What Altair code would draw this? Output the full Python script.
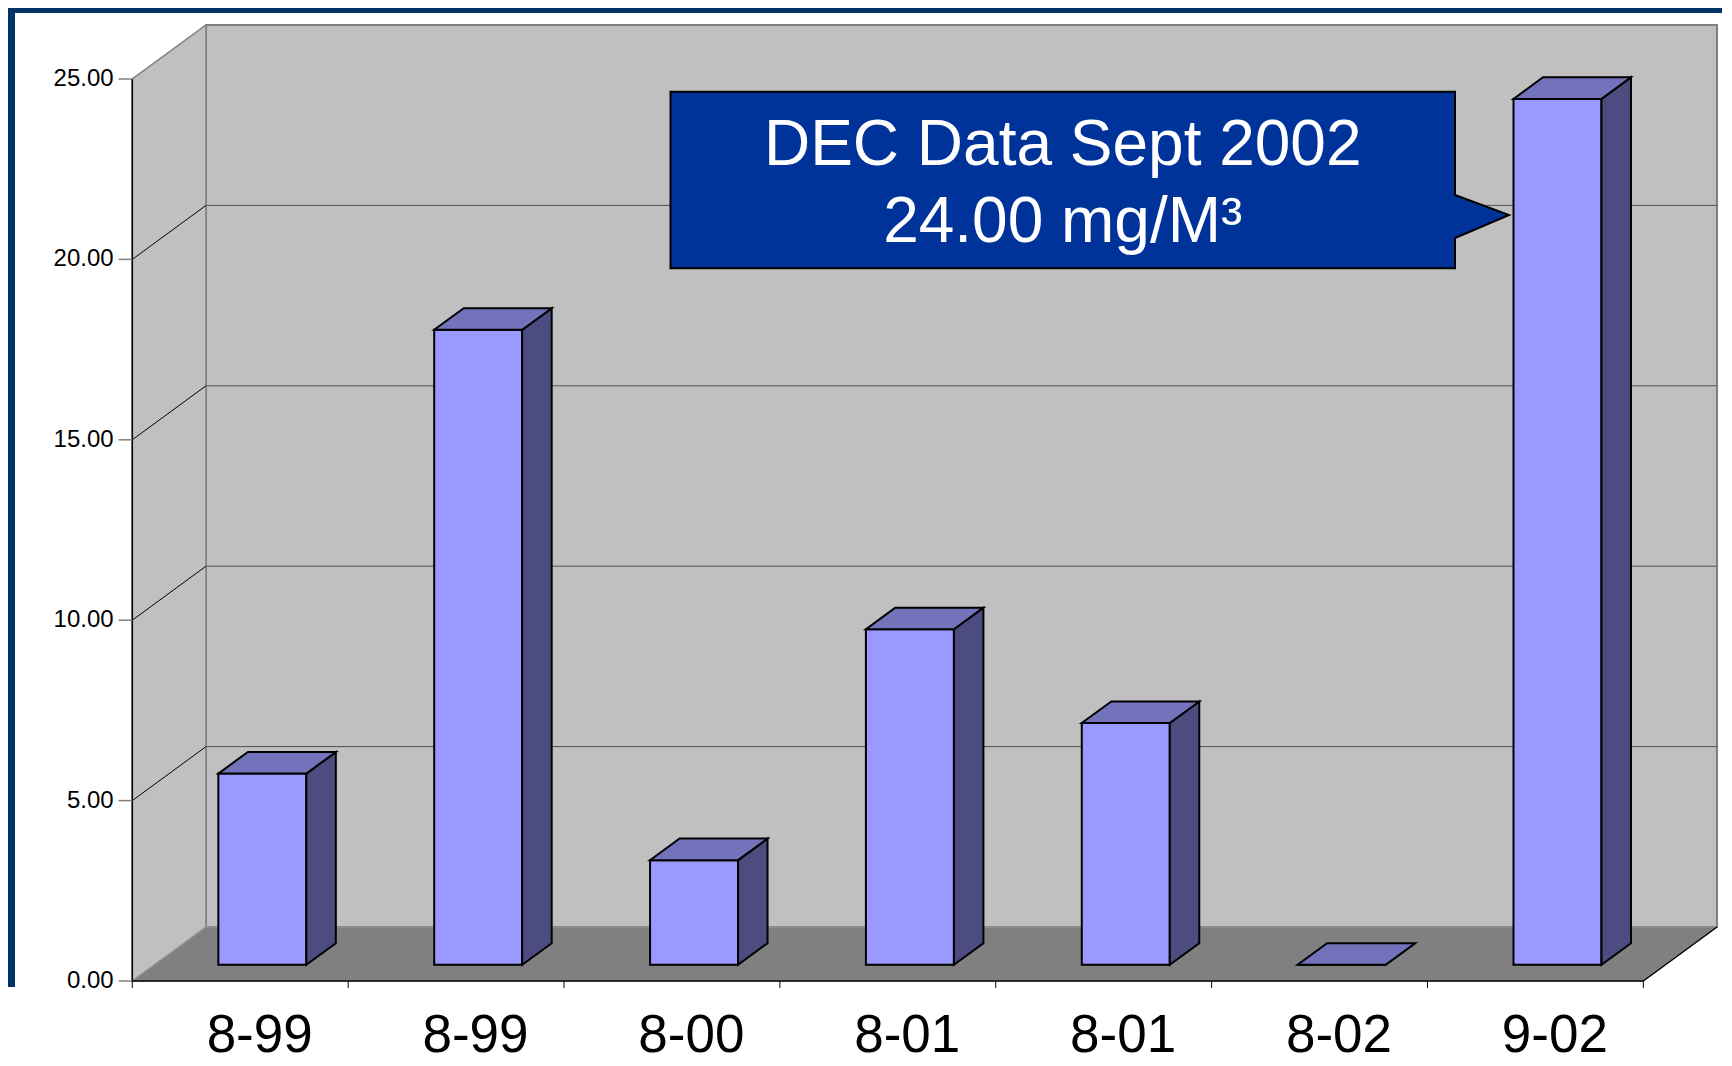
import altair as alt
import pandas as pd

# ---- data ----
categories = ["8-99", "8-99", "8-00", "8-01", "8-01", "8-02", "9-02"]
values = [5.3, 17.6, 2.9, 9.3, 6.7, 0.0, 24.0]
y_ticks = [0, 5, 10, 15, 20, 25]
callout_line1 = "DEC Data Sept 2002"
callout_line2 = "24.00 mg/M³"

# ---- layout constants (pixels) ----
SX = 215.86          # px per category
SY = 36.08           # px per y unit
DX = 73.7 / SX       # depth offset in x data units
DY = 54.0 / SY       # depth offset in y data units
N = len(categories)
YMAX = 25
BAR_W = 88 / SX
F0, F1 = 0.3, 0.7    # bar depth start / end fraction
LABEL_SHIFT = 0.09
YTICK_LEN = 13.7 / SX
XTICK_LEN = 7 / SY
W = (N + DX) * SX
H = (YMAX + DY) * SY
PAD_L, PAD_T, PAD_R, PAD_B = 124.3, 17, 5, 84
FONT = "Liberation Sans"

xs = alt.Scale(domain=[0, N + DX], nice=False, zero=False)
ys = alt.Scale(domain=[0, YMAX + DY], nice=False, zero=False)


def X(f):
    return alt.X(f, type="quantitative", scale=xs, axis=None)


def Y(f):
    return alt.Y(f, type="quantitative", scale=ys, axis=None, stack=False)


# ---- walls & floor ----
back_df = pd.DataFrame({"x": [DX], "x2": [N + DX], "y": [DY], "y2": [YMAX + DY]})
back = alt.Chart(back_df).mark_rect(fill="#C0C0C0", stroke="#808080", strokeWidth=2).encode(
    x=X("x"), x2="x2", y=Y("y"), y2="y2")

left_df = pd.DataFrame({"x": [0, DX], "y": [0, DY], "y2": [YMAX, YMAX + DY]})
left = alt.Chart(left_df).mark_area(orient="vertical", fill="#C0C0C0", stroke="#808080",
                                    strokeWidth=1.5, opacity=1).encode(
    x=X("x"), y=Y("y"), y2="y2")

floor_df = pd.DataFrame({"y": [0, DY], "x": [0, DX], "x2": [N, N + DX]})
floor = alt.Chart(floor_df).mark_area(orient="horizontal", fill="#808080", stroke="#9a9a9a",
                                      strokeWidth=1, opacity=1).encode(
    y=Y("y"), x=X("x"), x2="x2")

grid_vals = y_ticks[1:-1]
bgrid_df = pd.DataFrame({"x": [DX] * len(grid_vals), "x2": [N + DX] * len(grid_vals),
                         "y": [v + DY for v in grid_vals]})
bgrid = alt.Chart(bgrid_df).mark_rule(color="#505050", strokeWidth=1).encode(
    x=X("x"), x2="x2", y=Y("y"))

lgrid_df = pd.DataFrame({"x": [0] * len(grid_vals), "x2": [DX] * len(grid_vals),
                         "y": grid_vals, "y2": [v + DY for v in grid_vals]})
lgrid = alt.Chart(lgrid_df).mark_rule(color="black", strokeWidth=1).encode(
    x=X("x"), x2="x2", y=Y("y"), y2="y2")

edges_df = pd.DataFrame({"x": [0, N, 0], "x2": [N, N + DX, 0],
                         "y": [0, 0, 0], "y2": [0, DY, YMAX]})
edges = alt.Chart(edges_df).mark_rule(color="black", strokeWidth=1.5).encode(
    x=X("x"), x2="x2", y=Y("y"), y2="y2")

# ---- axis ticks and tick labels ----
ytick_df = pd.DataFrame({"y": y_ticks, "x": [-YTICK_LEN] * len(y_ticks),
                         "x2": [0] * len(y_ticks),
                         "label": [f"{v:.2f}" for v in y_ticks]})
yticks = alt.Chart(ytick_df).mark_rule(color="#808080", strokeWidth=1.5).encode(
    x=X("x"), x2="x2", y=Y("y"))
ylabels = alt.Chart(ytick_df).mark_text(fontSize=24, font=FONT, color="black", align="right",
                                        baseline="middle", dx=-5).encode(
    x=X("x"), y=Y("y"), text="label:N")

xtick_df = pd.DataFrame({"x": list(range(N + 1)), "y": [0] * (N + 1),
                         "y2": [-XTICK_LEN] * (N + 1)})
xticks = alt.Chart(xtick_df).mark_rule(color="black", strokeWidth=1).encode(
    x=X("x"), y=Y("y"), y2="y2")

# ---- bars ----
front_rows, side_rows, top_rows = [], [], []
for i, v in enumerate(values):
    xl = i + 0.5 - BAR_W / 2 + F0 * DX
    xr = xl + BAR_W
    ddx = (F1 - F0) * DX
    front_rows.append({"bar": i, "x": xl, "x2": xr, "y": F0 * DY, "y2": v + F0 * DY})
    side_rows.append({"bar": i, "x": xr, "y": F0 * DY, "y2": v + F0 * DY})
    side_rows.append({"bar": i, "x": xr + ddx, "y": F1 * DY, "y2": v + F1 * DY})
    top_rows.append({"bar": i, "y": v + F0 * DY, "x": xl, "x2": xr})
    top_rows.append({"bar": i, "y": v + F1 * DY, "x": xl + ddx, "x2": xr + ddx})

front = alt.Chart(pd.DataFrame(front_rows)).mark_rect(
    fill="#9999FF", stroke="black", strokeWidth=2).encode(
    x=X("x"), x2="x2", y=Y("y"), y2="y2")

side = alt.Chart(pd.DataFrame(side_rows)).mark_area(
    orient="vertical", fill="#4C4C80", stroke="black", strokeWidth=2, opacity=1).encode(
    x=X("x"), y=Y("y"), y2="y2", detail="bar:N")

top = alt.Chart(pd.DataFrame(top_rows)).mark_area(
    orient="horizontal", fill="#7373BB", stroke="black", strokeWidth=2, opacity=1).encode(
    y=Y("y"), x=X("x"), x2="x2", detail="bar:N")

# ---- category labels ----
lab_df = pd.DataFrame({"cat": categories,
                       "x": [i + 0.5 + LABEL_SHIFT for i in range(N)],
                       "y": [0] * N})
labels = alt.Chart(lab_df).mark_text(fontSize=53, font=FONT, color="black", align="center",
                                     baseline="alphabetic", dy=71).encode(
    x=X("x"), y=Y("y"), text="cat:N")

# ---- frame strips (decoration) ----
one = pd.DataFrame({"k": [0]})
frame_left = alt.Chart(one).mark_rect(color="#003366").encode(
    x=alt.value(-PAD_L), x2=alt.value(-PAD_L + 7), y=alt.value(-PAD_T), y2=alt.value(962))
frame_top = alt.Chart(one).mark_rect(color="#003366").encode(
    x=alt.value(-PAD_L), x2=alt.value(W + PAD_R), y=alt.value(-PAD_T), y2=alt.value(-PAD_T + 5))

# ---- callout ----
callout_path = ("M-1,-0.2106L0.8712,-0.2106L0.8712,0.0358L1,0.0835L0.8712,0.1383"
                "L0.8712,0.2106L-1,0.2106Z")
callout = alt.Chart(one).mark_point(shape=callout_path, size=838.5 ** 2, filled=True,
                                    fill="#003399", stroke="black", strokeWidth=2,
                                    opacity=1).encode(
    x=alt.value(957.45), y=alt.value(155))
ctext1 = alt.Chart(one).mark_text(text=callout_line1, fontSize=64, font=FONT, color="white",
                                  align="center", baseline="alphabetic").encode(
    x=alt.value(930.45), y=alt.value(140))
ctext2 = alt.Chart(one).mark_text(text=callout_line2, fontSize=64, font=FONT, color="white",
                                  align="center", baseline="alphabetic").encode(
    x=alt.value(930.45), y=alt.value(216.7))

chart = alt.layer(
    frame_left, frame_top, back, bgrid, left, lgrid, floor, edges,
    yticks, ylabels, xticks,
    front, side, top, labels, callout, ctext1, ctext2
).properties(
    width=W, height=H,
    autosize=alt.AutoSizeParams(type="none"),
    padding={"left": PAD_L, "top": PAD_T, "right": PAD_R, "bottom": PAD_B},
    background="white",
).configure_view(strokeWidth=0)

chart.save("out.html", embed_options={"renderer": "svg", "actions": False})
